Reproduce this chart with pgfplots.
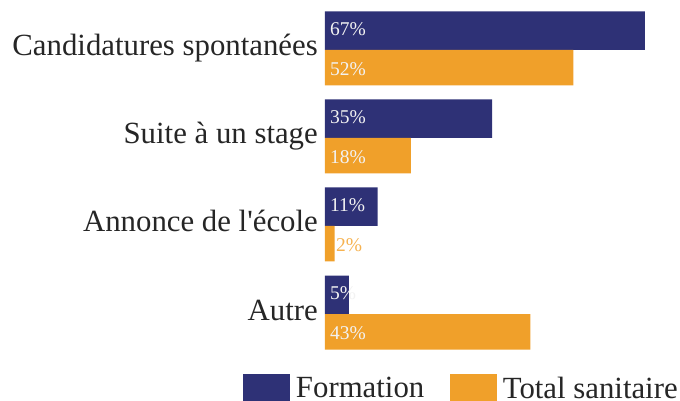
\documentclass[border=0pt]{standalone}
\usepackage{fontspec}
\setmainfont{Liberation Serif}[Ligatures=TeXOff]
\usepackage{pgfplots}
\pgfplotsset{compat=1.18}
\definecolor{navyc}{RGB}{46,49,118}
\definecolor{orangec}{RGB}{240,160,42}
\definecolor{lightorangec}{RGB}{246,178,80}
\begin{document}
\begin{tikzpicture}
\useasboundingbox (-325pt,-48.4pt) rectangle (355pt,352.6pt);
\begin{axis}[
  at={(0pt,0pt)}, anchor=south west,
  x=4.776pt, y=88pt,
  xmin=0, xmax=70, ymin=-0.4386, ymax=3.511,
  clip=false,
  xbar,
  /pgf/number format/assume math mode=true,
  axis line style={draw=none},
  major tick length=0pt,
  xtick=\empty,
  ytick={0,1,2,3},
  yticklabels={Autre, Annonce de l'école, Suite à un stage, Candidatures spontanées},
  yticklabel style={font=\fontsize{30.8}{36}\selectfont, anchor=base east, inner sep=0pt, xshift=-7pt, yshift=-6pt, text=black!85},
  visualization depends on={rawx \as \rawx},
  nodes near coords={\ifdim\rawx pt<3pt\color{lightorangec}\fi\pgfmathprintnumber{\pgfplotspointmeta}\%},
  every node near coord/.append style={font=\fontsize{19.5}{22}\selectfont, text=white!95!black, anchor=base west, inner sep=0pt,
     xshift={ifthenelse(\rawx<3,1.5,5-4.776*\rawx)}},
  legend style={draw=none, fill=none, inner sep=0pt, outer sep=0pt,
     at={(rel axis cs:0,0)}, anchor=north west, xshift=-82pt, yshift=-21.4pt,
     font=\fontsize{30.8}{36}\selectfont, text=black!85,
     nodes={inner sep=0pt},
     /tikz/every odd column/.append style={column sep=6pt},
     /tikz/every even column/.append style={column sep=25.5pt}},
  legend columns=-1,
  legend image code/.code={\fill[#1] (0pt,-12.2pt) rectangle (47pt,14.5pt);},
]
\addplot[fill=navyc, draw=none, bar width=38.5pt, bar shift=19.25pt,
  every node near coord/.append style={yshift=-4.75pt}]
  coordinates {(67,3) (35,2) (11,1) (5,0)};
\addlegendentry{Formation}
\addplot[fill=orangec, draw=none, bar width=35.5pt, bar shift=-17.75pt,
  every node near coord/.append style={yshift=-7.75pt}]
  coordinates {(52,3) (18,2) (2,1) (43,0)};
\addlegendentry{Total sanitaire}
\end{axis}
\end{tikzpicture}
\end{document}
